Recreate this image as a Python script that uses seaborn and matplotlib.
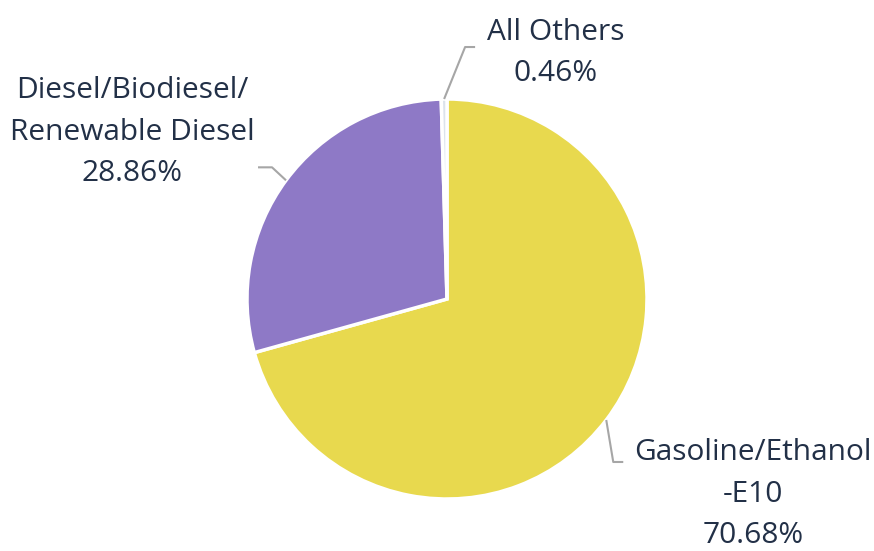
import numpy as np
import matplotlib
matplotlib.use("Agg")
import matplotlib.pyplot as plt
import seaborn as sns

# Fuel share by type
categories = ["Gasoline/Ethanol\n-E10", "Diesel/Biodiesel/\nRenewable Diesel", "All Others"]
shares = [70.68, 28.86, 0.46]
colors = ["#E8D94E", "#8E79C6", "#DCE3EC"]

sns.set_theme(style="white")
plt.rcParams["font.family"] = ["Open Sans", "DejaVu Sans"]

W, H = 874, 551
fig = plt.figure(figsize=(W / 100, H / 100), dpi=100)
ax = fig.add_axes([0, 0, 1, 1])

cx, cy, r = 447, H - 299, 200
wedges, _ = ax.pie(
    shares, colors=sns.color_palette(colors), startangle=90, counterclock=False,
    center=(cx, cy), radius=r, wedgeprops=dict(edgecolor="white", linewidth=2.5),
    frame=True,
)
ax.set_xlim(0, W)
ax.set_ylim(0, H)
ax.set_aspect("equal")
ax.axis("off")

text_color = "#223047"
line_color = "#A6A6A6"

# Leader elbow and label placement per slice
elbows = [(7, -42, 10), (-14, 13, -14), (21, 52, 10)]
label_pos = [(753, H - 494), (132, H - 132), (556, H - 53)]

for w, share, cat, (ex, ey, hx), (lx, ly) in zip(wedges, shares, categories, elbows, label_pos):
    mid = np.deg2rad((w.theta1 + w.theta2) / 2)
    px, py = cx + r * np.cos(mid), cy + r * np.sin(mid)
    bx, by = px + ex, py + ey
    ax.plot([px, bx, bx + hx], [py, by, by], color=line_color, lw=1.5, solid_capstyle="butt")
    ax.text(lx, ly, f"{cat}\n{share:.2f}%", ha="center", va="center",
            fontsize=21.5, color=text_color, linespacing=1.55)

fig.savefig("out.png", dpi=100)
